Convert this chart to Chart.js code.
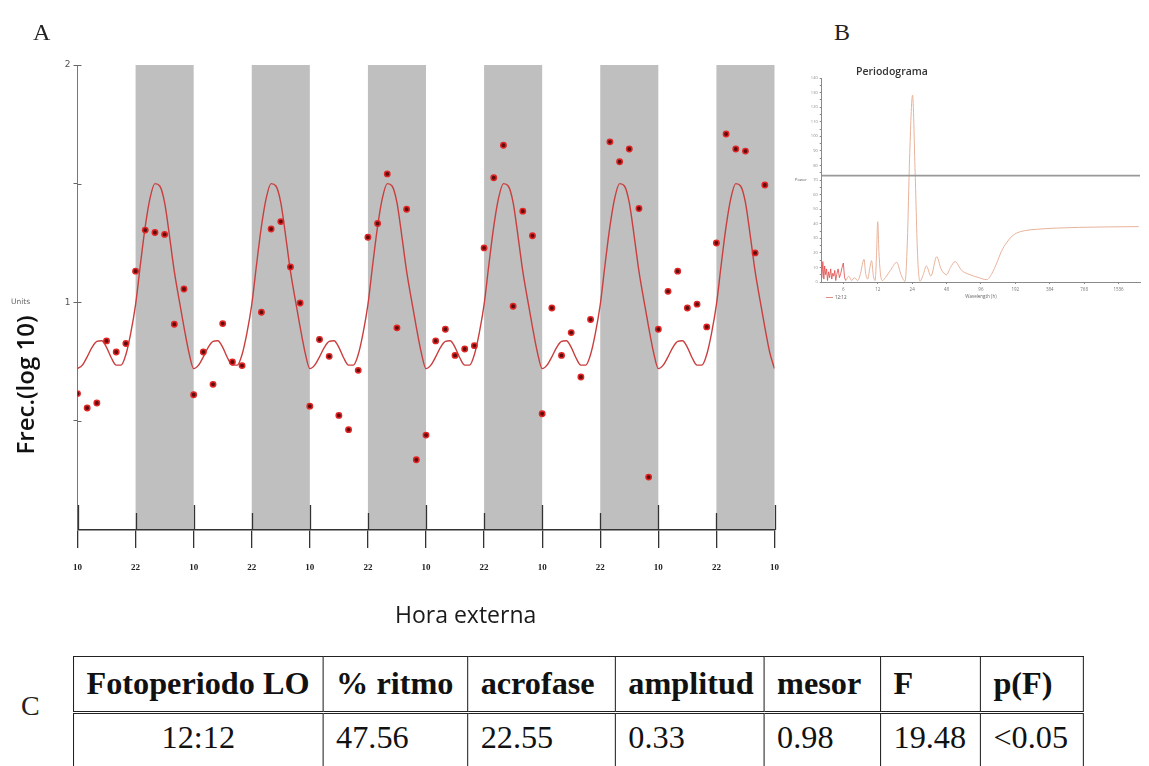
<!DOCTYPE html>
<html>
<head>
<meta charset="utf-8">
<script src="https://cdn.jsdelivr.net/npm/chart.js@4.4.1/dist/chart.umd.min.js"></script>
<style>
html,body{margin:0;padding:0;background:#fff;}
body{width:1149px;height:766px;overflow:hidden;position:relative;font-family:"Liberation Serif",serif;color:#222;}
canvas{position:absolute;}
#cA{left:0;top:0;}
#cB{left:790px;top:55px;}
.t{position:absolute;white-space:nowrap;}
.panel{font-family:"Liberation Serif",serif;font-size:24px;color:#222;}
#units{left:11px;top:297px;font-family:"DejaVu Sans",sans-serif;font-size:7.5px;color:#666;}
#ytitle{left:25px;top:385px;font-family:"Open Sans",sans-serif;font-size:24px;font-weight:600;color:#111;transform:translate(-50%,-50%) rotate(-90deg);line-height:1;}
#xtitle{left:395px;top:598px;font-family:"Open Sans",sans-serif;font-size:23px;color:#1a1a1a;}
#ptitle{left:856px;top:64px;font-family:"Open Sans",sans-serif;font-size:10.5px;font-weight:600;color:#333;}
#power{left:795px;top:177px;font-family:"Open Sans",sans-serif;font-size:4px;color:#555;}
#plegend{left:826px;top:294px;font-family:"Open Sans",sans-serif;font-size:4.5px;color:#555;}
#plegend span{display:inline-block;width:7px;height:1px;background:#e08a80;vertical-align:middle;margin-right:2px;}
#tbl{position:absolute;left:73px;top:656px;transform:scaleX(1.04);transform-origin:0 0;}
table{border-collapse:collapse;font-family:"Liberation Serif",serif;font-size:31px;color:#111;}
td,th{border:1.5px solid #222;padding:0 0 0 12px;text-align:left;white-space:nowrap;}
th{font-weight:bold;height:54px;border-bottom:3px double #222;}
td{font-weight:normal;height:70px;vertical-align:top;padding-top:6px;}
.c{text-align:center;padding-left:0;}
</style>
</head>
<body>
<canvas id="cA" width="800" height="640"></canvas>
<canvas id="cB" width="359" height="260"></canvas>
<div class="t panel" style="left:33px;top:19px;">A</div>
<div class="t panel" style="left:834px;top:19px;">B</div>
<div class="t panel" style="left:21px;top:690px;font-size:28px;">C</div>
<div class="t" id="units">Units</div>
<div class="t" id="ytitle">Frec.(log 10)</div>
<div class="t" id="xtitle">Hora externa</div>
<div class="t" id="ptitle">Periodograma</div>
<div class="t" id="power">Power</div>
<div class="t" id="plegend"><span></span>12:12</div>
<div id="tbl">
<table>
<tr>
<th style="width:227px;">Fotoperiodo LO</th>
<th style="width:126px;">% ritmo</th>
<th style="width:129px;">acrofase</th>
<th style="width:130px;">amplitud</th>
<th style="width:99px;">mesor</th>
<th style="width:83px;">F</th>
<th style="width:86px;">p(F)</th>
</tr>
<tr id="bodyRow"></tr>
</table>
</div>
<script>
// ---------- Panel A data ----------
const obsHours = [0,2,4,6,8,10,12,14,16,18,20,22,24,26,28,30,32,34,
  38,40,42,44,46,48,50,52,54,56,58,60,62,64,66,68,70,72,74,76,78,80,82,84,86,88,90,92,94,96,98,100,102,104,106,
  110,112,114,116,118,120,122,124,126,128,130,132,134,136,138,140,142];
const obsValues = [0.615,0.554,0.575,0.837,0.79,0.826,1.131,1.304,1.294,1.286,0.907,1.056,0.61,0.79,0.654,0.91,0.748,0.733,
  0.958,1.309,1.34,1.149,0.997,0.562,0.843,0.772,0.523,0.463,0.713,1.274,1.332,1.541,0.892,1.392,0.336,0.44,0.837,0.886,0.776,0.803,0.817,1.229,1.525,1.662,0.983,1.384,1.28,0.53,0.976,0.776,0.872,0.685,0.927,
  1.676,1.592,1.646,1.395,0.263,0.886,1.046,1.131,0.976,0.992,0.896,1.25,1.709,1.646,1.637,1.208,1.494];

const fitHours = [];
for (let h = 0; h <= 144; h++) fitHours.push(h);
const fitValues = [
  0.720,0.735,0.770,0.810,0.835,0.838,0.810,0.765,0.735,0.735,0.780,0.870,0.990,1.160,1.320,1.440,1.500,1.490,1.420,1.280,1.130,1.010,0.895,0.790,
  0.720,0.735,0.770,0.810,0.835,0.838,0.810,0.765,0.735,0.735,0.780,0.870,0.990,1.160,1.320,1.440,1.500,1.490,1.420,1.280,1.130,1.010,0.895,0.790,
  0.720,0.735,0.770,0.810,0.835,0.838,0.810,0.765,0.735,0.735,0.780,0.870,0.990,1.160,1.320,1.440,1.500,1.490,1.420,1.280,1.130,1.010,0.895,0.790,
  0.720,0.735,0.770,0.810,0.835,0.838,0.810,0.765,0.735,0.735,0.780,0.870,0.990,1.160,1.320,1.440,1.500,1.490,1.420,1.280,1.130,1.010,0.895,0.790,
  0.720,0.735,0.770,0.810,0.835,0.838,0.810,0.765,0.735,0.735,0.780,0.870,0.990,1.160,1.320,1.440,1.500,1.490,1.420,1.280,1.130,1.010,0.895,0.790,
  0.720,0.735,0.770,0.810,0.835,0.838,0.810,0.765,0.735,0.735,0.780,0.870,0.990,1.160,1.320,1.440,1.500,1.490,1.420,1.280,1.130,1.010,0.895,0.790,
  0.720];

const darkStarts = [12,36,60,84,108,132];
const darkEnds   = [24,48,72,96,120,144];
const xTickHours  = [0,12,24,36,48,60,72,84,96,108,120,132,144];
const xTickLabels = ['10','22','10','22','10','22','10','22','10','22','10','22','10'];
const yTickValues = [0.5,1,1.5,2];
const yTickLabels = ['','1','','2'];

// ---------- Panel B data ----------
const perRedPeriods = [3.9,3.97,4.05,4.12,4.2,4.28,4.36,4.45,4.55,4.65,4.75,4.85,4.95,5.05,5.15,5.25,5.4,5.55,5.7,5.85,6.0,6.15,6.3];
const perRedPower   = [3,14,2,11,5,9,1,7,3,9,2,6,4,8,1,5,9,3,6,10,13,3,1];
const perPeriods = [6.3,6.7,7.1,7.5,8.0,8.5,8.8,9.1,9.4,9.8,10.2,10.6,11.0,11.4,11.7,12.0,12.3,12.7,13.2,14,15.5,17.6,19.2,20.8,21.8,22.8,24.2,25.5,26.8,28.1,30,32,35,39.4,43,48,52,57,65,77,92,108,120,132,145,161,180,197,230,300,441,700,1200,2300];
const perPower   = [1,4,1,3,1,6,12,15.6,6,2,9,14.7,4,1,18,41.4,20,5,1,3,8,13.5,5,0.5,28,85,128.3,75,18,0.5,5,11,4,17.4,9,5,10,14,8,5,3,1.6,6,13,21,27,31.5,33.6,35.2,36.2,37,37.5,37.8,38];
const sigLevel = 73;
const perTickPeriods = [6,12,24,48,96,192,384,768,1536];
const perTickLabels  = ['6','12','24','48','96','192','384','768','1536'];

// ---------- Panel C data ----------
const tableRow = ['12:12','47.56','22.55','0.33','0.98','19.48','<0.05'];

const row = document.getElementById('bodyRow');
tableRow.forEach((v,i)=>{ const td=document.createElement('td'); td.textContent=v; if(i===0) td.className='c'; row.appendChild(td); });

// ---------- Chart A ----------
const bandsPlugin = {
  id:'bands',
  beforeDraw(chart){
    const {ctx, chartArea, scales:{x}} = chart;
    ctx.save();
    ctx.fillStyle = '#bfbfbf';
    darkStarts.forEach((s,i)=>{
      const x0 = x.getPixelForValue(s), x1 = x.getPixelForValue(darkEnds[i]);
      ctx.fillRect(x0, chartArea.top, x1-x0, chartArea.bottom-chartArea.top);
    });
    ctx.restore();
  },
  afterDraw(chart){
    const {ctx, chartArea, scales:{x,y}} = chart;
    ctx.save();
    ctx.strokeStyle = '#333'; ctx.lineWidth = 1.3;
    xTickHours.forEach(h=>{
      const px = Math.round(x.getPixelForValue(h))+0.5;
      const up = (h % 24 === 0) ? 25 : 17;
      ctx.beginPath(); ctx.moveTo(px, chartArea.bottom-up); ctx.lineTo(px, chartArea.bottom); ctx.stroke();
    });
    ctx.strokeStyle = '#666'; ctx.lineWidth = 1;
    yTickValues.forEach(v=>{
      const py = Math.round(y.getPixelForValue(v))+0.5;
      ctx.beginPath(); ctx.moveTo(chartArea.left, py); ctx.lineTo(chartArea.left+4, py); ctx.stroke();
    });
    ctx.restore();
  }
};

new Chart(document.getElementById('cA'), {
  type:'line',
  data:{datasets:[
    {label:'Frecuencia', data: obsHours.map((h,i)=>({x:h,y:obsValues[i]})), showLine:false,
     pointRadius:2.7, pointBackgroundColor:'#5e0c0c', pointBorderColor:'#e22626', pointBorderWidth:1.5},
    {label:'Ajuste', data: fitHours.map((h,i)=>({x:h,y:fitValues[i]})), borderColor:'#c93e3e', borderWidth:1.4,
     pointRadius:0, cubicInterpolationMode:'monotone', fill:false}
  ]},
  options:{
    responsive:false, animation:false, devicePixelRatio:1,
    layout:{padding:{left:0,top:65,right:25.5,bottom:0}},
    plugins:{legend:{display:false}, tooltip:{enabled:false}},
    scales:{
      x:{type:'linear', min:0, max:144,
        afterBuildTicks:s=>{ s.ticks = xTickHours.map(v=>({value:v})); },
        ticks:{callback:(v,i)=>xTickLabels[i], font:{family:'Liberation Serif', size:9, weight:'bold'}, color:'#222', padding:14, maxRotation:0, autoSkip:false},
        grid:{drawOnChartArea:false, tickLength:18, color:'#333', lineWidth:1.3},
        border:{color:'#333', width:1.5},
        afterFit:s=>{ s.height = 110; }
      },
      y:{type:'linear', min:0.04, max:2,
        afterBuildTicks:s=>{ s.ticks = yTickValues.map(v=>({value:v})); },
        ticks:{callback:(v,i)=>yTickLabels[i], font:{family:'DejaVu Sans', size:9}, color:'#555', padding:3},
        grid:{drawOnChartArea:false, tickLength:4, color:'#666'},
        border:{color:'#777', width:1},
        afterFit:s=>{ s.width = 77.5; }
      }
    }
  },
  plugins:[bandsPlugin]
});

// ---------- Chart B ----------
new Chart(document.getElementById('cB'), {
  type:'line',
  data:{datasets:[
    {label:'12:12 ruido', data: perRedPeriods.map((p,i)=>({x:p,y:perRedPower[i]})), borderColor:'#e04848', borderWidth:0.8, pointRadius:0},
    {label:'Significancia', data:[{x:3.88,y:sigLevel},{x:2367,y:sigLevel}], borderColor:'#999', borderWidth:1.6, pointRadius:0},
    {label:'12:12', data: perPeriods.map((p,i)=>({x:p,y:perPower[i]})), borderColor:'#e8b29a', borderWidth:1, pointRadius:0, cubicInterpolationMode:'monotone'}
  ]},
  options:{
    responsive:false, animation:false, devicePixelRatio:1,
    layout:{padding:{left:0,top:23,right:9,bottom:0}},
    plugins:{legend:{display:false}, tooltip:{enabled:false}},
    scales:{
      x:{type:'logarithmic', min:3.88, max:2367,
        afterBuildTicks:s=>{ s.ticks = perTickPeriods.map(v=>({value:v})); },
        ticks:{callback:(v,i)=>perTickLabels[i], font:{family:'Open Sans', size:4.5}, color:'#777', padding:3, maxRotation:0, autoSkip:false},
        grid:{drawOnChartArea:false, tickLength:2, color:'#888'},
        border:{color:'#8a8a8a', width:1},
        title:{display:true, text:'Wavelength (h)', font:{family:'Open Sans', size:4.5}, color:'#666', padding:{top:0,bottom:16}},
        afterFit:s=>{ s.height = 33; }
      },
      y:{type:'linear', min:0, max:140,
        afterBuildTicks:s=>{ const t=[]; for(let v=0; v<=140; v+=5) t.push({value:v}); s.ticks=t; },
        ticks:{callback:(v)=> (v % 10 === 0 ? String(v) : ''), font:{family:'Open Sans', size:4}, color:'#888', padding:2, autoSkip:false},
        grid:{drawOnChartArea:false, tickLength:2, color:'#888'},
        border:{color:'#8a8a8a', width:1},
        afterFit:s=>{ s.width = 31.7; }
      }
    }
  }
});
</script>
</body>
</html>
